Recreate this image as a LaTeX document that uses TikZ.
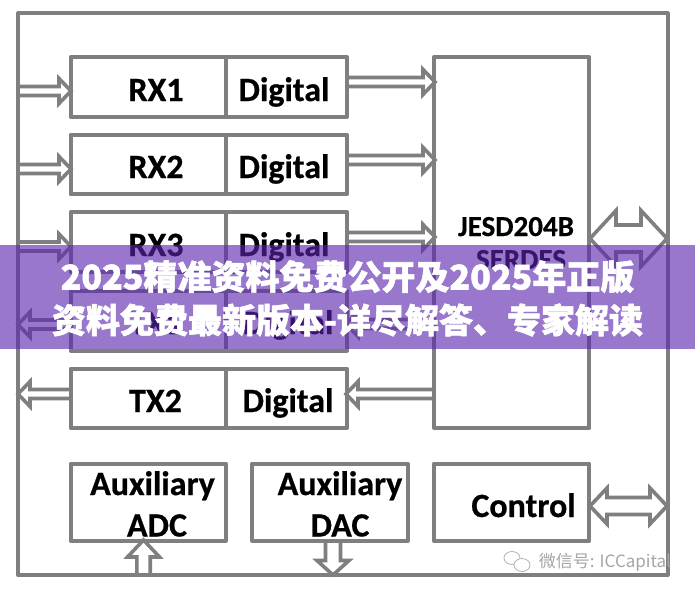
\documentclass[tikz,border=0pt]{standalone}
\usepackage{fontspec}
\setmainfont[BoldFeatures={FakeBold=0.6}]{Carlito}
\newfontfamily\cjkfont[BoldFeatures={FakeBold=1.6}]{Noto Sans CJK SC}
\usetikzlibrary{calc}
\definecolor{edge}{HTML}{7F7F7F}
\definecolor{band}{HTML}{5A25AE}
\tikzset{
  x=1pt,y=-1pt,
  block/.style={draw=edge,line width=4pt,line join=round,inner sep=0pt,outer sep=0pt},
  lab/.style={font=\fontsize{34}{34}\selectfont\bfseries,text=black,anchor=base,inner sep=0pt},
  labsmall/.style={font=\fontsize{29}{29}\selectfont\bfseries,text=black,anchor=base,inner sep=0pt},
  arrw/.store in=\arrw, arrh/.store in=\arrh, arrl/.store in=\arrl,
  arrw=4.5pt, arrh=12.5pt, arrl=12pt,
  blockline/.style={draw=edge,line width=3.6pt,line join=miter,fill=white},
  oneway/.style={blockline,to path={
    coordinate (tB) at ($(\tikztotarget)!\arrl!(\tikztostart)$)
    ($(\tikztostart)!\arrw!90:(\tikztotarget)$)
    -- ($(tB)!\arrw!-90:(\tikztostart)$)
    -- ($(tB)!\arrh!-90:(\tikztostart)$)
    -- (\tikztotarget)
    -- ($(tB)!\arrh!90:(\tikztostart)$)
    -- ($(tB)!\arrw!90:(\tikztostart)$)
    -- ($(\tikztostart)!\arrw!-90:(\tikztotarget)$)
  }},
  twoway/.style={blockline,to path={
    coordinate (tB) at ($(\tikztotarget)!\arrl!(\tikztostart)$)
    coordinate (sB) at ($(\tikztostart)!\arrl!(\tikztotarget)$)
    (\tikztostart)
    -- ($(sB)!\arrh!90:(\tikztotarget)$)
    -- ($(sB)!\arrw!90:(\tikztotarget)$)
    -- ($(tB)!\arrw!-90:(\tikztostart)$)
    -- ($(tB)!\arrh!-90:(\tikztostart)$)
    -- (\tikztotarget)
    -- ($(tB)!\arrh!90:(\tikztostart)$)
    -- ($(tB)!\arrw!90:(\tikztostart)$)
    -- ($(sB)!\arrw!-90:(\tikztotarget)$)
    -- ($(sB)!\arrh!-90:(\tikztotarget)$)
    -- cycle
  }},
}
% name, left, top, right, bottom (centre lines of the stroke)
\newcommand{\boxat}[5]{\node[block,minimum width=#4pt-#2pt,minimum height=#5pt-#3pt] (#1) at ({(#2+#4)/2},{(#3+#5)/2}) {};}
\begin{document}
\begin{tikzpicture}
\useasboundingbox (0,0) rectangle (695,594);
\fill[white] (0,0) rectangle (695,594);
% free ends
\coordinate (ia) at (18,91);   \coordinate (ta) at (71,91);
\coordinate (ib) at (18,169);  \coordinate (tb) at (71,169);
\coordinate (ic) at (18,246.5);\coordinate (tc) at (71,246.5);
\coordinate (id) at (18,324.5);\coordinate (td) at (70,324.5);
\coordinate (ie) at (18,394);  \coordinate (te) at (70,394);
\coordinate (ja) at (347,82);  \coordinate (ka) at (435,82);
\coordinate (jb) at (347,160); \coordinate (kb) at (435,160);
\coordinate (jc) at (347,237); \coordinate (kc) at (435,237);
\coordinate (jd) at (346,324); \coordinate (kd) at (434,324);
\coordinate (je) at (346,394); \coordinate (ke) at (434,394);
\coordinate (ua) at (143.5,540); \coordinate (ub) at (143.5,575);
\coordinate (va) at (333,541);   \coordinate (vb) at (333,575);
\coordinate (wa) at (590,238.5); \coordinate (wb) at (667,238.5);
\coordinate (xa) at (590,506);   \coordinate (xb) at (667,506);
% connectors
\draw[oneway] (ia) to (ta);
\draw[oneway] (ib) to (tb);
\draw[oneway] (ic) to (tc);
\draw[oneway] (td) to (id);
\draw[oneway] (te) to (ie);
\draw[oneway] (ja) to (ka);
\draw[oneway] (jb) to (kb);
\draw[oneway] (jc) to (kc);
\draw[oneway] (kd) to (jd);
\draw[oneway] (ke) to (je);
\draw[oneway,arrw=6.7pt,arrh=16pt,arrl=17pt] (ub) to (ua);
\draw[oneway,arrw=7.5pt,arrh=16pt,arrl=14.5pt] (va) to (vb);
\draw[twoway,arrw=13.5pt,arrh=28pt,arrl=26pt] (wa) to (wb);
\draw[twoway,arrw=8.5pt,arrh=18pt,arrl=17pt] (xa) to (xb);
% frame and boxes
\boxat{chip}{18}{13.5}{667.5}{575}
\boxat{rxa}{70.5}{57}{226}{116.5}   \boxat{dga}{226}{57}{347}{116.5}
\boxat{rxb}{70.5}{134.7}{226}{194.3}  \boxat{dgb}{226}{134.7}{347}{194.3}
\boxat{rxc}{70.5}{212.3}{226}{271.9}  \boxat{dgc}{226}{212.3}{347}{271.9}
\boxat{txa}{70.5}{290.5}{226}{350.5}  \boxat{dgd}{226}{290.5}{347}{350.5}
\boxat{txb}{70.5}{368.7}{226}{428}  \boxat{dge}{226}{368.7}{347}{428}
\boxat{jesd}{434}{57}{589.4}{428}
\boxat{adc}{70.5}{463.6}{226}{540.7}
\boxat{dac}{252}{463.6}{407.7}{540.7}
\boxat{ctl}{434}{463.6}{589.4}{540.7}
% labels
\node[lab] (la) at (156,101) {RX1};   \node[lab] (da) at (284,101) {Digital};
\node[lab] (lb) at (156,178) {RX2};   \node[lab] (db) at (284,178) {Digital};
\node[lab] (lc) at (156,256) {RX3};   \node[lab] (dc) at (284,256) {Digital};
\node[lab] (ld) at (156,334) {TX1};   \node[lab] (dd) at (288,334) {Digital};
\node[lab] (le) at (155.5,412) {TX2}; \node[lab] (de) at (288,412) {Digital};
\node[labsmall] (je1) at (516,236) {JESD204B};
\node[labsmall] (je2) at (521,269) {SERDES};
\node[lab] (a1) at (152.5,495) {Auxiliary};
\node[lab] (a2) at (157,536.5) {ADC};
\node[lab] (b1) at (340,495) {Auxiliary};
\node[lab] (b2) at (340,536.5) {DAC};
\node[lab] (c1) at (523.5,517) {Control};
% banner
\fill[band,opacity=0.62] (0,245) rectangle (695,349);
\node[font=\cjkfont\bfseries\fontsize{34}{34}\selectfont,text=white,anchor=base,inner sep=0pt] (t1) at (347.5,289.5) {2025精准资料免费公开及2025年正版};
\node[font=\cjkfont\bfseries\fontsize{34}{34}\selectfont,text=white,anchor=base,inner sep=0pt] (t2) at (347.5,333) {资料免费最新版本-详尽解答、专家解读};
% watermark
\draw[gray!60,line width=0.8pt] (512,558) ellipse (8 and 6.5);
\draw[gray!60,line width=0.8pt,fill=white] (522,565) ellipse (8 and 6.5);
\node[font=\cjkfont\fontsize{17}{17}\selectfont,text=gray!70,anchor=base,inner sep=0pt] (wm) at (605,567) {微信号: ICCapital};
\end{tikzpicture}
\end{document}
